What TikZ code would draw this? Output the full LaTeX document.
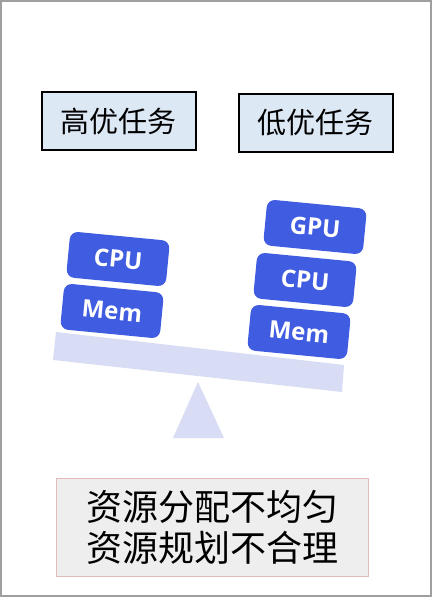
\documentclass[tikz,border=0pt]{standalone}
\usepackage{fontspec}
\newfontfamily\cjk{Noto Sans CJK SC}
\newfontfamily\resfont{Open Sans}
\definecolor{taskfill}{RGB}{221,232,245}
\definecolor{resblue}{RGB}{64,92,224}
\definecolor{beam}{RGB}{216,221,245}
\definecolor{notefill}{RGB}{238,238,238}
\definecolor{noteline}{RGB}{226,186,186}
\tikzset{
    task/.style={draw=black, line width=1pt, fill=taskfill, minimum width=77pt, minimum height=29pt,
        inner sep=0pt, font=\cjk\fontsize{14.5}{16}\selectfont},
    res/.style={fill=resblue, rounded corners=4pt, minimum width=50pt, minimum height=23pt,
        inner sep=0pt, rotate=-5.5, text=white, font=\resfont\bfseries\fontsize{12}{14}\selectfont},
    notebox/.style={draw=noteline, line width=0.6pt, fill=notefill, minimum width=156pt, minimum height=49pt,
        align=center, font=\cjk\fontsize{18}{20.5}\selectfont}
}
\begin{document}
\begin{tikzpicture}[x=0.5pt,y=-0.5pt]
    \useasboundingbox (0,0) rectangle (432,597);
    \fill[white] (0,0) rectangle (432,597);
    \draw[gray!75, line width=1pt] (1,1) rectangle (431,596);
    % tasks
    \node[task] (high) at (118.5,121) {高优任务};
    \node[task] (low) at (315.5,123) {低优任务};
    % seesaw
    \fill[beam] (56,332) -- (344,365) -- (342,392) -- (53,360) -- cycle;
    \fill[beam] (198,382) -- (224,438) -- (173,438) -- cycle;
    \node[res] (hcpu) at (118,259) {CPU};
    \node[res] (hmem) at (112,311) {Mem};
    \node[res] (lgpu) at (315,227) {GPU};
    \node[res] (lcpu) at (305,280) {CPU};
    \node[res] (lmem) at (299,332) {Mem};
    % note
    \node[notebox] (note) at (212.5,527.5) {资源分配不均匀\\资源规划不合理};
\end{tikzpicture}
\end{document}
